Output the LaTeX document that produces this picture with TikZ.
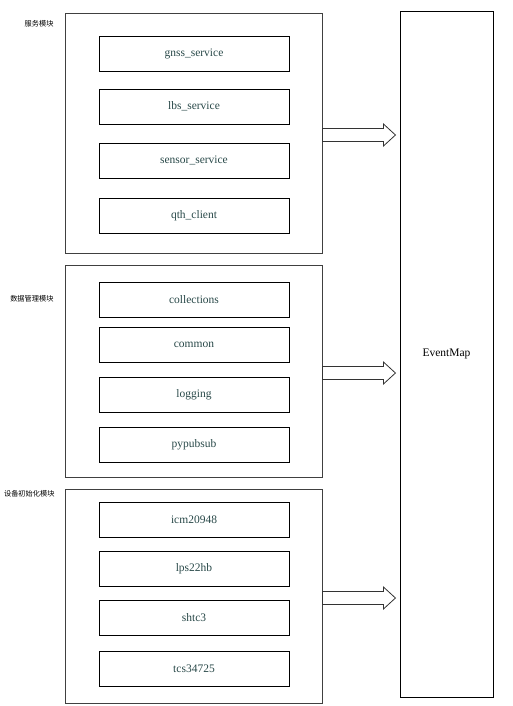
\documentclass[tikz,border=0pt]{standalone}
\usepackage{fontspec}
\setmainfont{Liberation Serif}
\newfontfamily\cjk{Noto Sans CJK SC}
\usetikzlibrary{positioning}
\definecolor{modtext}{RGB}{40,72,72}
\tikzset{
  groupbox/.style={draw=black!75,line width=0.9pt,rectangle,minimum width=257pt,anchor=center},
  modbox/.style={draw,line width=0.8pt,rectangle,minimum width=190pt,minimum height=35pt,anchor=center,text=modtext,font=\fontsize{11.5}{13}\selectfont},
  grouplabel/.style={anchor=east,font=\cjk\fontsize{7.2}{8}\selectfont}
}
\begin{document}
\begin{tikzpicture}[x=1pt,y=-1pt]
        \useasboundingbox (0,0) rectangle (513,706);
        %% Groups
        \node[groupbox,minimum height=240pt] (S) at (193.5,133) {};
        \node[groupbox,minimum height=212pt] (D) at (193.5,371) {};
        \node[groupbox,minimum height=214pt] (I) at (193.5,596) {};
        \node[grouplabel] (SL) at (57,24) {服务模块};
        \node[grouplabel] (DL) at (57,299) {数据管理模块};
        \node[grouplabel] (IL) at (58,494) {设备初始化模块};
        %% Service modules
        \node[modbox] (gnss) at (194,54) {gnss\_service};
        \node[modbox] (lbs) at (194,106.5) {lbs\_service};
        \node[modbox] (sensor) at (194,160.5) {sensor\_service};
        \node[modbox] (qth) at (194,215.5) {qth\_client};
        %% Data modules
        \node[modbox] (coll) at (194,299.5) {collections};
        \node[modbox] (common) at (194,344.5) {common};
        \node[modbox] (log) at (194,394.5) {logging};
        \node[modbox] (pps) at (194,444.5) {pypubsub};
        %% Device modules
        \node[modbox] (icm) at (194,519.5) {icm20948};
        \node[modbox] (lps) at (194,568.5) {lps22hb};
        \node[modbox] (shtc) at (194,617.5) {shtc3};
        \node[modbox] (tcs) at (194,668.5) {tcs34725};
        %% EventMap
        \node[draw,line width=0.9pt,rectangle,minimum width=93pt,minimum height=686pt,anchor=center,font=\fontsize{11.5}{13}\selectfont] (E) at (446.5,354) {EventMap};
        %% Arrows
        \foreach \g in {S,D,I}
          \draw[draw=black!80,line width=0.8pt,fill=white] ([yshift=-2pt]\g.east) ++(0,-6.5) -- ++(61,0) -- ++(0,-4.5) -- ++(12,11) -- ++(-12,11) -- ++(0,-4.5) -- ++(-61,0) -- cycle;
    \end{tikzpicture}
\end{document}
